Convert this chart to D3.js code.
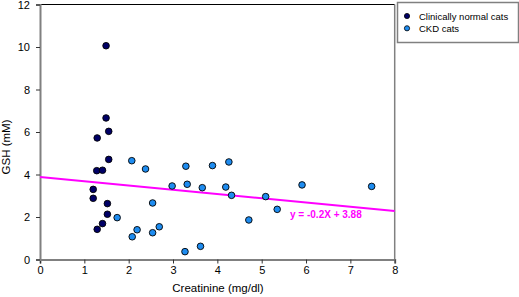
<!DOCTYPE html>
<html><head><meta charset="utf-8">
<script src="https://cdn.jsdelivr.net/npm/d3@7"></script>
<style>body{margin:0;background:#fff}svg{display:block;font-family:"Liberation Sans",Arial,sans-serif}</style>
</head><body>
<svg id="c" width="519" height="297"></svg>
<script>
const normalX = [1.49,1.49,1.55,1.29,1.55,1.28,1.41,1.20,1.20,1.52,1.52,1.41,1.29];
const normalY = [10.06,6.66,6.03,5.72,4.71,4.18,4.20,3.30,2.88,2.63,2.13,1.69,1.42];
const ckdX = [1.74,2.07,2.38,2.98,2.54,2.19,2.08,2.54,2.69,3.27,3.29,3.32,3.62,3.89,4.26,3.66,4.19,4.32,5.09,5.35,4.71,5.91,7.48];
const ckdY = [1.97,4.65,4.26,3.46,2.66,1.40,1.07,1.26,1.54,0.37,4.39,3.54,0.62,4.42,4.59,3.38,3.41,3.02,2.96,2.36,1.86,3.51,3.44];
const xTicks = [0,1,2,3,4,5,6,7,8];
const yTicks = [0,2,4,6,8,10,12];
const seriesNames = ["Clinically normal cats","CKD cats"];
const seriesColors = ["#000066","#1e8cf0"];
const slope = -0.2, intercept = 3.88;
const eqLabel = "y = -0.2X + 3.88";

const svg = d3.select("#c");
const L=40, R=394.7, T=4.5, B=259.5;
const x = d3.scaleLinear().domain([0,8]).range([L,R]);
const y = d3.scaleLinear().domain([0,12]).range([B,T]);

// top border & right border
svg.append("line").attr("x1",L).attr("x2",R).attr("y1",T).attr("y2",T).attr("stroke","#000").attr("stroke-width",1.2);
svg.append("line").attr("x1",R).attr("x2",R).attr("y1",T).attr("y2",B).attr("stroke","#808080").attr("stroke-width",1.5);

const xa = svg.append("g").attr("transform",`translate(0,${B})`)
  .call(d3.axisBottom(x).tickValues(xTicks).tickSize(4).tickPadding(3).tickFormat(d3.format("d")));
const ya = svg.append("g").attr("transform",`translate(${L},0)`)
  .call(d3.axisLeft(y).tickValues(yTicks).tickSize(4).tickPadding(6).tickFormat(d3.format("d")));
[xa,ya].forEach(a=>{
  a.select(".domain").attr("stroke","#808080").attr("stroke-width",2);
  a.selectAll(".tick line").attr("stroke","#333");
  a.selectAll("text").attr("font-size",11).attr("fill","#000").attr("font-family","Liberation Sans, Arial, sans-serif");
});

svg.append("text").attr("x",218).attr("y",292).attr("text-anchor","middle").attr("font-size",11.5).text("Creatinine (mg/dl)");
svg.append("text").attr("transform","translate(10,147) rotate(-90)").attr("text-anchor","middle").attr("font-size",11.5).text("GSH (mM)");

// trend line
svg.append("line").attr("x1",x(0)).attr("y1",y(intercept)).attr("x2",x(8)).attr("y2",y(intercept+slope*8))
  .attr("stroke","#ff00ff").attr("stroke-width",2);

const series=[d3.zip(normalX,normalY), d3.zip(ckdX,ckdY)];
series.forEach((pts,i)=>{
  svg.append("g").selectAll("circle").data(pts).join("circle")
    .attr("cx",d=>x(d[0])).attr("cy",d=>y(d[1])).attr("r",3.3)
    .attr("fill",seriesColors[i]).attr("stroke","#000").attr("stroke-width",0.9);
});

svg.append("text").attr("x",290).attr("y",218).attr("font-size",10).attr("font-weight","bold").attr("fill","#ff00ff").text(eqLabel);

// legend
const lg = svg.append("g");
lg.append("rect").attr("x",397.5).attr("y",2.5).attr("width",121).attr("height",40).attr("fill","#fff").attr("stroke","#808080").attr("stroke-width",1.5);
seriesNames.forEach((n,i)=>{
  const yy = 16 + i*12.3;
  lg.append("circle").attr("cx",407).attr("cy",yy).attr("r",2.6).attr("fill",seriesColors[i]).attr("stroke","#000").attr("stroke-width",0.8);
  lg.append("text").attr("x",419).attr("y",yy+3.5).attr("font-size",9.5).text(n);
});
</script>
</body></html>
